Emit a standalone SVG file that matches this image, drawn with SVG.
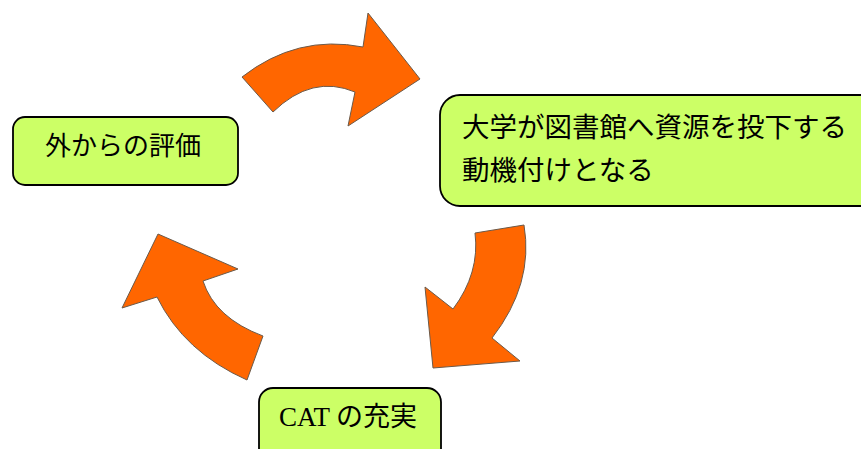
<svg xmlns="http://www.w3.org/2000/svg" width="861" height="449" viewBox="0 0 861 449">
<style>
.arrow{fill:#FF6600;stroke:#6b5a4a;stroke-width:1;stroke-linejoin:miter}
.box{fill:#CCFF66;stroke:#000;stroke-width:1.8}
.jp{font-family:"Noto Sans CJK JP","Noto Sans",sans-serif;fill:#000}
.cat{font-family:"Liberation Serif","Noto Sans CJK JP",serif;fill:#000}
</style>
<rect width="861" height="449" fill="#fff"/>
<g id="connectors">
<path class="arrow" d="M242,77 Q297,34 363,47 L368,13 L420,79 L348,126 L355,92 Q312,74 273,112 Z"/>
<path class="arrow" d="M524,225 Q534,284 492,338 L520,361 L433,368 L425,287 L453,309 Q480,273 475,233 Z"/>
<path class="arrow" d="M247,380 Q184,352 157,297 L122,308 L158,234 L238,269 L203,281 Q215,318 263,336 Z"/>
</g>
<g id="node-eval">
<rect class="box" x="13" y="117" width="225" height="68" rx="12"/>
<text class="jp" x="45" y="155" font-size="26">外からの評価</text>
</g>
<g id="node-motivation">
<rect class="box" x="440" y="95" width="440" height="111" rx="20"/>
<text class="jp" x="462" y="137" font-size="27.5">大学が図書館へ資源を投下する</text>
<text class="jp" x="462" y="180" font-size="27.5">動機付けとなる</text>
</g>
<g id="node-cat">
<rect class="box" x="259" y="388" width="182" height="80" rx="14"/>
<text class="cat" x="279" y="426" font-size="27">CAT<tspan class="jp"> の充実</tspan></text>
</g>
</svg>
